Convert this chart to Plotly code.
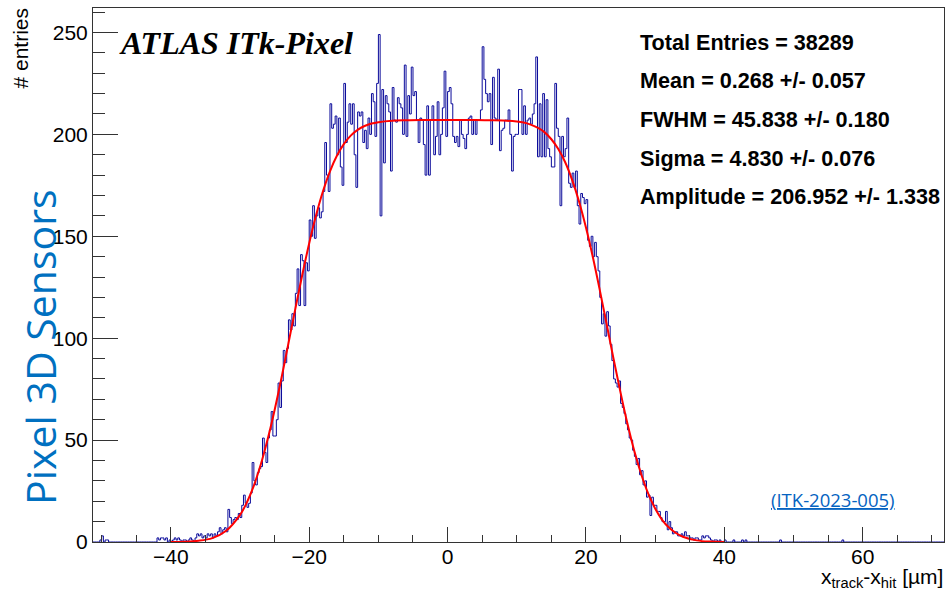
import plotly.graph_objects as go

# ---------------- data ----------------
BIN_LOW_EDGE = -51.25   # first bin lower edge [um]
BIN_WIDTH = 0.25        # bin width [um]

# counts per 0.25 um bin, rows of 5 um (row label = lower edge of the row)
C_M51 = [0, 0, 0, 0, 1]
C_M50 = [3, 0, 1, 1, 0, 0, 0, 0, 0, 0, 0, 0, 0, 0, 0, 0, 0, 0, 0, 0]
C_M45 = [0, 0, 0, 0, 0, 0, 0, 0, 0, 0, 0, 0, 2, 1, 2, 2, 1, 2, 0, 1]
C_M40 = [0, 1, 2, 1, 2, 1, 0, 1, 1, 0, 1, 2, 1, 0, 2, 4, 3, 4, 2, 3]
C_M35 = [2, 4, 3, 4, 2, 4, 3, 5, 7, 4, 6, 7, 5, 16, 12, 9, 11, 12, 11, 14]
C_M30 = [12, 18, 23, 19, 17, 19, 24, 39, 30, 28, 34, 36, 37, 51, 44, 39, 51, 55, 64, 52]
C_M25 = [52, 60, 78, 66, 79, 94, 88, 95, 109, 104, 112, 106, 122, 134, 116, 141, 138, 116, 137, 133]
C_M20 = [158, 150, 165, 149, 160, 164, 159, 162, 172, 196, 180, 172, 215, 203, 205, 209, 190, 208, 184, 175]
C_M15 = [225, 196, 206, 215, 205, 215, 190, 174, 211, 209, 211, 196, 202, 193, 208, 200, 220, 216, 199, 225]
C_M10 = [249, 160, 222, 186, 219, 215, 211, 182, 223, 207, 206, 218, 215, 213, 200, 234, 199, 219, 210, 233]
C_M05 = [219, 221, 207, 196, 208, 207, 195, 180, 214, 180, 207, 214, 190, 199, 216, 190, 200, 213, 231, 199]
C_P00 = [221, 223, 215, 199, 196, 199, 194, 207, 200, 198, 193, 200, 208, 209, 200, 207, 200, 207, 207, 212]
C_P05 = [243, 227, 220, 216, 220, 195, 228, 208, 207, 232, 192, 202, 203, 207, 207, 212, 200, 182, 199, 200]
C_P10 = [200, 222, 222, 200, 214, 200, 207, 208, 205, 210, 215, 238, 189, 215, 189, 220, 189, 217, 193, 189]
C_P15 = [184, 184, 225, 203, 199, 165, 199, 189, 193, 208, 176, 174, 181, 174, 182, 165, 156, 171, 169, 166]
C_P20 = [168, 148, 145, 150, 140, 147, 140, 133, 120, 107, 112, 101, 113, 106, 97, 89, 80, 78, 76, 79]
C_P25 = [68, 66, 63, 58, 55, 51, 50, 45, 42, 38, 41, 33, 35, 28, 30, 22, 23, 13, 22, 18]
C_P30 = [18, 15, 15, 12, 10, 10, 15, 6, 10, 7, 4, 5, 5, 3, 3, 4, 3, 5, 3, 3]
C_P35 = [2, 2, 1, 2, 2, 1, 1, 3, 2, 3, 3, 2, 1, 0, 1, 1, 0, 1, 0, 0]
C_P40 = [1, 0, 0, 0, 0, 1, 0, 0, 0, 0, 1, 0, 1, 0, 0, 0, 0, 0, 0, 0]
C_P45 = [0, 0, 0, 0, 0, 0, 0, 0, 0, 0, 0, 0, 1, 0, 0, 0, 0, 0, 0, 0]
C_P50 = [0, 0, 0, 0, 0, 0, 0, 0, 0, 0, 0, 0, 0, 0, 0, 0, 0, 0, 0, 0]
C_P55 = [0, 0, 0, 0, 0, 0, 0, 0, 1, 0, 0, 0, 0, 0, 0, 0, 0, 0, 0, 0]
C_P60 = [0, 0, 0, 0, 0, 0, 0, 0, 0, 0, 0, 0, 0, 0, 0, 0, 0, 0, 0, 0]
C_P65 = [0, 0, 0, 0, 0, 0, 0, 0, 0, 0, 0, 0, 0, 0, 0, 0, 0, 0, 0, 0]
C_P70 = [0, 0, 0, 0, 0, 0, 0]

# fit curve (box (x) gaussian)
FIT_X = [-40, -38, -36, -34, -32, -30, -29, -28, -27, -26, -25, -24, -23, -22, -21, -20,
         -19, -18, -17, -16, -15, -14, -13, -12, -11, -10, -8, -6, -4, 0, 4, 6, 8, 10,
         11, 12, 13, 14, 15, 16, 17, 18, 19, 20, 21, 22, 23, 24, 25, 26, 27, 28, 29,
         30, 31, 32, 33, 34, 36, 38, 40]
FIT_Y = [0.03, 0.15, 0.6, 1.9, 5.5, 13.3, 19.5, 27.7, 38.0, 50.5, 64.8, 80.6, 97.5, 114.5,
         131.1, 146.6, 160.4, 172.2, 181.9, 189.5, 195.2, 199.4, 202.2, 204.1, 205.3, 206.0,
         206.7, 206.9, 207.0, 207.0, 207.0, 206.9, 206.8, 206.3, 205.8, 204.8, 203.3, 201.1,
         197.6, 192.8, 186.3, 177.7, 167.1, 154.3, 139.7, 123.6, 106.7, 89.7, 73.3, 58.0,
         44.5, 33.1, 23.7, 16.4, 10.9, 7.1, 4.4, 2.6, 0.8, 0.2, 0.05]

STATS = ["Total Entries = 38289", "Mean = 0.268 +/- 0.057", "FWHM = 45.838 +/- 0.180",
         "Sigma = 4.830 +/- 0.076", "Amplitude = 206.952 +/- 1.338"]

X_RANGE = [-51.25, 71.75]
Y_RANGE = [0, 262]

# ---------------- build ----------------
COUNTS = (C_M51 + C_M50 + C_M45 + C_M40 + C_M35 + C_M30 + C_M25 + C_M20 + C_M15 + C_M10 +
          C_M05 + C_P00 + C_P05 + C_P10 + C_P15 + C_P20 + C_P25 + C_P30 + C_P35 + C_P40 +
          C_P45 + C_P50 + C_P55 + C_P60 + C_P65 + C_P70)
edges = [BIN_LOW_EDGE + i * BIN_WIDTH for i in range(len(COUNTS) + 1)]

W, H = 948, 592
L, R, T, B = 93, 4, 8, 50
PW, PH = W - L - R, H - T - B


def px(xp):
    return (xp - L) / PW


def py(yp):
    return (H - B - yp) / PH


fig = go.Figure()
fig.add_trace(go.Scatter(
    x=edges, y=COUNTS + [COUNTS[-1]], mode="lines", line_shape="hv",
    line=dict(color="#0a0a9a", width=1), hoverinfo="skip", showlegend=False))
fig.add_trace(go.Scatter(
    x=FIT_X, y=FIT_Y, mode="lines", line_shape="spline",
    line=dict(color="#ff0000", width=2), hoverinfo="skip", showlegend=False))

TICKFONT = dict(family="Liberation Sans, Arial, sans-serif", size=21, color="black")

fig.update_xaxes(range=X_RANGE, showgrid=False, zeroline=False, showline=True, mirror=True,
                 linecolor="#333333", linewidth=1, ticks="inside", ticklen=15, tickcolor="#333333",
                 dtick=20, tick0=0, tickfont=TICKFONT, ticklabelstandoff=-4,
                 minor=dict(ticks="inside", ticklen=7, dtick=5, tick0=0, tickcolor="#333333"))
fig.update_yaxes(range=Y_RANGE, showgrid=False, zeroline=False, showline=True, mirror=True,
                 linecolor="#333333", linewidth=1, ticks="inside", ticklen=25, tickcolor="#333333",
                 dtick=50, tick0=0, tickfont=TICKFONT,
                 minor=dict(ticks="inside", ticklen=12, dtick=10, tick0=0, tickcolor="#333333"))

ann = []
ann.append(dict(text="<b><i>ATLAS ITk-Pixel</i></b>", x=px(117), y=py(43), xref="paper", yref="paper",
                xanchor="left", yanchor="middle", showarrow=False,
                font=dict(family="Liberation Serif, Times New Roman, serif", size=32, color="black")))
for i, s in enumerate(STATS):
    ann.append(dict(text="<b>%s</b>" % s, x=px(638), y=py(42 + i * 38.7), xref="paper", yref="paper",
                    xanchor="left", yanchor="middle", showarrow=False,
                    font=dict(family="Liberation Sans, Arial, sans-serif", size=21.6, color="black")))
ann.append(dict(text="# entries", x=px(20), y=py(6), xref="paper", yref="paper", textangle=-90,
                xanchor="center", yanchor="top", showarrow=False,
                font=dict(family="Liberation Sans, Arial, sans-serif", size=21, color="black")))
ann.append(dict(text="x<sub>track</sub>-x<sub>hit</sub> [µm]", x=px(945), y=py(578), xref="paper",
                yref="paper", xanchor="right", yanchor="middle", showarrow=False,
                font=dict(family="Liberation Sans, Arial, sans-serif", size=21, color="black")))
ann.append(dict(text="Pixel 3D Sensors", x=px(40), y=py(347), xref="paper", yref="paper", textangle=-90,
                xanchor="center", yanchor="middle", showarrow=False,
                font=dict(family="Open Sans, sans-serif", size=41, color="#0070c0")))
ann.append(dict(text="<u>(ITK-2023-005)</u>", x=px(833), y=py(499), xref="paper", yref="paper",
                xanchor="center", yanchor="middle", showarrow=False,
                font=dict(family="Open Sans, sans-serif", size=18.5, color="#0563c1")))

fig.update_layout(width=W, height=H, margin=dict(l=L, r=R, t=T, b=B, pad=0),
                  paper_bgcolor="white", plot_bgcolor="white", annotations=ann)

fig.write_html("out.html", config={"displayModeBar": False},
               post_script="document.body.style.margin='0';document.body.style.padding='0';")
